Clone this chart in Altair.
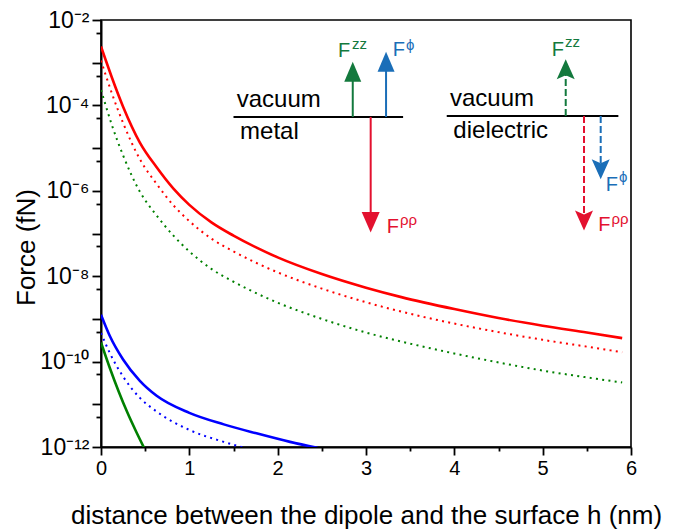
import altair as alt
import pandas as pd

# ---------------- curve readings: h in nm, log10(force / fN) ----------------
h_main = [0, 0.05, 0.12, 0.25, 0.44, 0.63, 0.82, 1.0, 1.25, 1.5, 1.75, 2.0, 2.5, 3.0, 3.4, 4.0, 4.5, 5.0, 5.5, 5.9]
red_solid = [-2.62, -2.92, -3.33, -4.03, -4.87, -5.45, -5.95, -6.33, -6.74, -7.05, -7.32, -7.56, -7.95, -8.27, -8.49, -8.77, -8.98, -9.16, -9.32, -9.45]
red_dotted = [-2.95, -3.27, -3.70, -4.41, -5.26, -5.84, -6.34, -6.71, -7.12, -7.42, -7.68, -7.91, -8.29, -8.61, -8.83, -9.11, -9.31, -9.49, -9.65, -9.78]
green_dotted = [-3.64, -3.98, -4.44, -5.17, -6.02, -6.58, -7.05, -7.42, -7.83, -8.13, -8.39, -8.62, -9.00, -9.32, -9.53, -9.81, -10.02, -10.21, -10.37, -10.49]

h_blue_solid = [0, 0.1, 0.25, 0.44, 0.63, 1.0, 1.39, 1.76, 2.14, 2.45]
blue_solid = [-8.90, -9.40, -9.95, -10.45, -10.80, -11.20, -11.47, -11.68, -11.88, -12.02]
h_blue_dotted = [0, 0.1, 0.25, 0.44, 0.63, 1.0, 1.39, 1.62]
blue_dotted = [-9.33, -9.80, -10.35, -10.85, -11.17, -11.60, -11.88, -12.02]
h_green_solid = [0, 0.1, 0.2, 0.3, 0.4, 0.49]
green_solid = [-9.55, -10.15, -10.70, -11.20, -11.65, -12.03]

# ---------------- axes ----------------
x_tick_values = [0, 0.5, 1, 1.5, 2, 2.5, 3, 3.5, 4, 4.5, 5, 5.5, 6]
y_decades = list(range(-12, -1))          # 1e-12 ... 1e-2
y_labelled = [-12, -10, -8, -6, -4, -2]
x_title = "distance between the dipole and the surface h (nm)"
y_title = "Force (fN)"

# ---------------- inset sketches (h in nm, log10 force) ----------------
inset_lines_h1 = [1.50, 3.914]
inset_lines_h2 = [3.42, 5.857]
inset_lines_y = [-4.27, -4.247]

words = ["vacuum", "metal", "vacuum", "dielectric"]
words_h = [1.536, 1.574, 3.951, 3.989]
words_y = [-4.043, -4.792, -4.013, -4.769]

# arrows: kind, style, x, start, tip
arrow_kind = ["zz", "phi", "rho", "zz", "rho", "phi"]
arrow_style = ["solid", "solid", "solid", "dashed", "dashed", "dashed"]
arrow_h = [2.850, 3.227, 3.053, 5.261, 5.468, 5.657]
arrow_start = [-4.27, -4.27, -4.27, -4.247, -4.247, -4.247]
arrow_tip = [-2.976, -2.742, -6.978, -2.920, -6.931, -5.728]

# force labels: kind, "F" position, superscript position
label_kind = ["zz", "phi", "rho", "zz", "phi", "rho"]
label_sup = ["zz", "ϕ", "ρρ", "zz", "ϕ", "ρρ"]
F_h = [2.683, 3.302, 3.234, 5.102, 5.714, 5.630]
F_y = [-2.859, -2.843, -6.992, -2.835, -5.995, -6.931]
sup_h = [2.842, 3.453, 3.385, 5.253, 5.864, 5.779]
sup_y = [-2.686, -2.700, -6.800, -2.625, -5.784, -6.774]

# ---------------- styling ----------------
curve_colors = {"red": "#ff0000", "blue": "#0000ff", "green": "#008000"}
force_colors = {"zz": "#13793d", "phi": "#1a6eb8", "rho": "#e3112f"}
AX_FONT = "Liberation Sans"
INSET_FONT = "Liberation Sans"


def P(v):
    return 10.0 ** v


rows = []
for name, style, hs, ys in [
    ("red", "solid", h_main, red_solid),
    ("red", "dotted", h_main, red_dotted),
    ("green", "dotted", h_main, green_dotted),
    ("blue", "solid", h_blue_solid, blue_solid),
    ("blue", "dotted", h_blue_dotted, blue_dotted),
    ("green", "solid", h_green_solid, green_solid),
]:
    for h, y in zip(hs, ys):
        rows.append({"series": name + "-" + style, "color": name, "style": style, "h": h, "F": P(y)})
curves = pd.DataFrame(rows)

xscale = alt.Scale(domain=[0, 6], nice=False, zero=False)
yscale = alt.Scale(type="log", domain=[1e-12, 1e-2], nice=False)

y_ticks = []
for e in y_decades:
    y_ticks.append(10.0 ** e)
    if e < -2:
        y_ticks.append(5 * 10.0 ** e)
y_ticks = sorted(y_ticks)

sup_map = str.maketrans("-0123456789", "⁻⁰¹²³⁴⁵⁶⁷⁸⁹")
lab_expr = ""
for e in y_labelled:
    lab_expr += "abs(log(datum.value)/LN10 - (%d)) < 0.01 ? '10%s' : " % (e, str(e).translate(sup_map))
lab_expr += "''"
is_decade = "abs(log(datum.value)/LN10 - round(log(datum.value)/LN10)) < 0.01"

x_axis = alt.Axis(
    values=x_tick_values, labelExpr="datum.value % 1 == 0 ? format(datum.value, 'd') : ''",
    tickSize=8,
    tickDash={"condition": {"test": "datum.value % 1 == 0", "value": [8, 0]}, "value": [4, 10]},
    tickWidth=1.8, tickColor="black", domainColor="black", domainWidth=2,
    labelFont=AX_FONT, labelFontSize=20, labelColor="black", labelPadding=3,
    labelFlush=False, labelOverlap=False, grid=False,
    titleFont=AX_FONT, titleFontSize=26, titleFontWeight="normal", titleColor="black",
    titleBaseline="alphabetic", titleY=76,
)
y_axis = alt.Axis(
    values=y_ticks, labelExpr=lab_expr,
    tickSize=9,
    tickDash={"condition": {"test": is_decade, "value": [9, 0]}, "value": [5, 10]},
    tickWidth=1.8, tickColor="black", domainColor="black", domainWidth=2,
    labelFont=AX_FONT, labelFontSize=23, labelColor="black", labelPadding=3,
    labelFlush=False, labelOverlap=False, grid=False,
    titleFont=AX_FONT, titleFontSize=26, titleFontWeight="normal", titleColor="black",
    titleX=-75, titleY=227, titleBaseline="middle", titleAlign="center",
)


def X(field):
    return alt.X(field, type="quantitative", scale=xscale, axis=x_axis, title=x_title)


def Y(field):
    return alt.Y(field, type="quantitative", scale=yscale, axis=y_axis, title=y_title)


layers = []
solid_df = curves[curves["style"] == "solid"]
dotted_df = curves[curves["style"] == "dotted"]
cscale = alt.Scale(domain=list(curve_colors.keys()), range=list(curve_colors.values()))

layers.append(
    alt.Chart(solid_df).mark_line(strokeWidth=2.6, clip=True, interpolate="monotone").encode(
        x=X("h"), y=Y("F"),
        color=alt.Color("color:N", scale=cscale, legend=None),
        detail="series:N",
    )
)
layers.append(
    alt.Chart(dotted_df).mark_line(strokeWidth=2.0, strokeDash=[2, 4.3], clip=True, interpolate="monotone").encode(
        x=X("h"), y=Y("F"),
        color=alt.Color("color:N", scale=cscale, legend=None),
        detail="series:N",
    )
)

# inset horizontal interface lines
lines_df = pd.DataFrame({"h": inset_lines_h1, "h2": inset_lines_h2, "F": [P(v) for v in inset_lines_y]})
layers.append(
    alt.Chart(lines_df).mark_rule(color="black", strokeWidth=2).encode(
        x=X("h"), x2="h2:Q", y=Y("F"),
    )
)

words_df = pd.DataFrame({"h": words_h, "F": [P(v) for v in words_y], "label": words})
layers.append(
    alt.Chart(words_df).mark_text(align="left", baseline="alphabetic", font=INSET_FONT, fontSize=24, color="black").encode(
        x=X("h"), y=Y("F"), text="label:N",
    )
)

arrows = pd.DataFrame({"kind": arrow_kind, "style": arrow_style, "h": arrow_h,
                       "start": arrow_start, "tip": arrow_tip})
arrows["up"] = arrows["tip"] > arrows["start"]
arrows["F"] = [P(v) for v in arrows["start"]]
arrows["Ftip"] = [P(v) for v in arrows["tip"]]
arrows["Fend"] = [P(t - 0.25) if u else P(t + 0.25) for t, u in zip(arrows["tip"], arrows["up"])]

shapes = {
    ("solid", True): "M0,0 L0.85,2 L-0.85,2 Z",
    ("solid", False): "M0,0 L0.9,-2.05 L-0.9,-2.05 Z",
    ("dashed", True): "M0,0 L0.9,2.0 L0,1.6 L-0.9,2.0 Z",
    ("dashed", False): "M0,0 L0.9,-2.0 L0,-1.6 L-0.9,-2.0 Z",
}

for kind, col in force_colors.items():
    for style in ["solid", "dashed"]:
        sub = arrows[(arrows["kind"] == kind) & (arrows["style"] == style)]
        if len(sub) == 0:
            continue
        rule_kw = dict(color=col, strokeWidth=2)
        if style == "dashed":
            rule_kw["strokeDash"] = [7, 3]
        layers.append(
            alt.Chart(sub).mark_rule(**rule_kw).encode(
                x=X("h"), y=Y("F"), y2="Fend:Q",
            )
        )
        for up in [True, False]:
            s2 = sub[sub["up"] == up]
            if len(s2) == 0:
                continue
            layers.append(
                alt.Chart(s2).mark_point(shape=shapes[(style, up)], size=400, filled=True,
                                         opacity=1, color=col, strokeWidth=0).encode(
                    x=X("h"), y=Y("Ftip"),
                )
            )

labels = pd.DataFrame({"kind": label_kind, "sup": label_sup, "h": F_h, "F": [P(v) for v in F_y],
                       "hs": sup_h, "Fs": [P(v) for v in sup_y]})
labels["base"] = "F"
for kind, col in force_colors.items():
    sub = labels[labels["kind"] == kind]
    layers.append(
        alt.Chart(sub).mark_text(align="left", baseline="alphabetic", font=INSET_FONT, fontSize=20, color=col).encode(
            x=X("h"), y=Y("F"), text="base:N",
        )
    )
    layers.append(
        alt.Chart(sub).mark_text(align="left", baseline="alphabetic", font=INSET_FONT, fontSize=15, color=col).encode(
            x=X("hs"), y=Y("Fs"), text="sup:N",
        )
    )

chart = alt.layer(*layers).properties(
    width=530, height=427,
    padding={"left": 93, "top": 12, "right": 36, "bottom": 90},
    autosize=alt.AutoSizeParams(type="none"),
    background="white",
).configure_view(stroke="black", strokeWidth=1.6)

chart.save("out.html", embed_options={"renderer": "svg", "actions": False})
